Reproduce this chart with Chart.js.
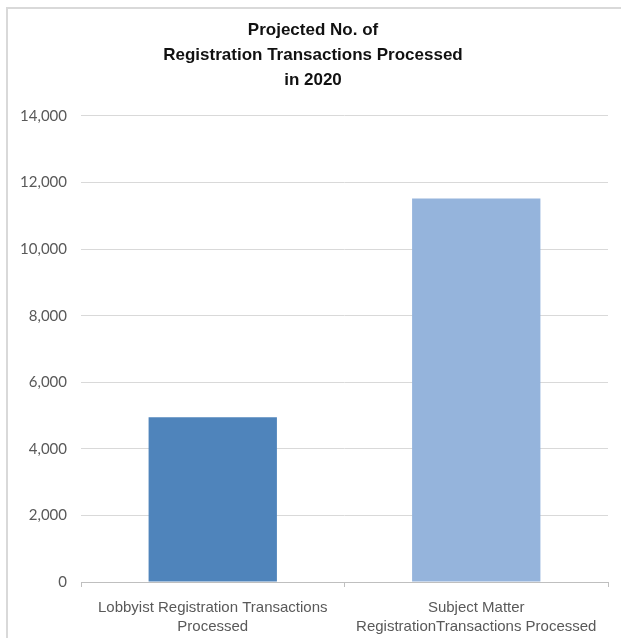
<!DOCTYPE html>
<html>
<head>
<meta charset="utf-8">
<script src="https://cdn.jsdelivr.net/npm/chart.js@4"></script>
<style>
  html, body { margin: 0; padding: 0; background: #fff; overflow: hidden; }
  #frame { position: absolute; left: 6px; top: 7px; width: 640px; height: 640px;
           border-left: 2px solid #d9d9d9; border-top: 2px solid #d9d9d9; box-sizing: border-box; }
  #c { position: absolute; left: 0; top: 0; }
</style>
</head>
<body>
<div id="frame"></div>
<canvas id="c" width="621" height="638"></canvas>
<script>
const titleLines = ["Projected No. of", "Registration Transactions Processed", "in 2020"];
const categories = [
  ["Lobbyist Registration Transactions", "Processed"],
  ["Subject Matter", "RegistrationTransactions Processed"]
];
const values = [4950, 11520];
const barColors = ["#4f84bb", "#95b4dc"];
const yTicks = [0, 2000, 4000, 6000, 8000, 10000, 12000, 14000];

const sans = "'Liberation Sans Narrow', 'Arial Narrow', 'Liberation Sans', Arial, sans-serif";

new Chart(document.getElementById('c'), {
  type: 'bar',
  data: {
    labels: categories,
    datasets: [{
      data: values,
      backgroundColor: barColors,
      borderWidth: 0,
      barPercentage: 0.487,
      categoryPercentage: 1
    }]
  },
  options: {
    responsive: false,
    animation: false,
    devicePixelRatio: 1,
    layout: { padding: { left: 18, right: 13, top: 8, bottom: 0 } },
    plugins: {
      legend: { display: false },
      tooltip: { enabled: false },
      title: {
        display: true,
        text: titleLines,
        color: '#111',
        font: { family: sans, size: 17, weight: 'bold', lineHeight: 1.47 },
        padding: { top: 10, bottom: 23 }
      }
    },
    scales: {
      x: {
        grid: { drawOnChartArea: false, drawTicks: true, tickLength: 5, color: '#bfbfbf', offset: true },
        border: { display: true, color: '#bfbfbf', width: 1 },
        ticks: { color: '#595959', padding: 11, maxRotation: 0, autoSkip: false,
                 font: { family: sans, size: 15, lineHeight: 1.27 } },
        afterFit: s => { s.height = 56; }
      },
      y: {
        min: yTicks[0],
        max: yTicks[yTicks.length - 1],
        afterBuildTicks: s => { s.ticks = yTicks.map(v => ({ value: v })); },
        grid: { color: '#d9d9d9', drawTicks: false, lineWidth: 1 },
        border: { display: false },
        ticks: { color: '#595959', padding: 14,
                 font: { family: "Lato, 'Open Sans', sans-serif", size: 15 },
                 callback: v => Number(v).toLocaleString('en-US') },
        afterFit: s => { s.width = 63; }
      }
    }
  }
});
</script>
</body>
</html>
